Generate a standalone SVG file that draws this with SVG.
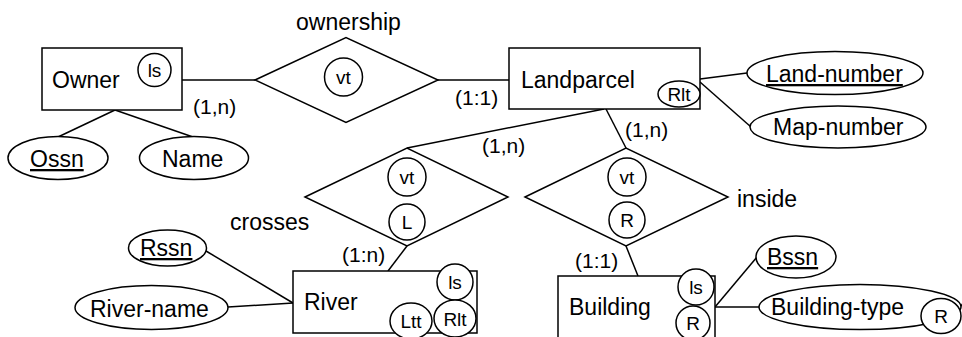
<svg xmlns="http://www.w3.org/2000/svg" width="962" height="337" viewBox="0 0 962 337">
<style>
.s{fill:#fff;stroke:#000;stroke-width:1.5}
.l{stroke:#000;stroke-width:1.5;fill:none}
text{font-family:"Liberation Sans",Arial,sans-serif;fill:#000}
.m{font-size:23px}
.c{font-size:21px}
.k{font-size:19px;text-anchor:middle}
.u{text-decoration:underline}
</style>
<rect width="962" height="337" fill="#fff"/>
<g id="connectors">
<line class="l" x1="182" y1="80" x2="255" y2="80"/>
<line class="l" x1="438" y1="80" x2="509" y2="80"/>
<line class="l" x1="604" y1="109" x2="407" y2="148"/>
<line class="l" x1="606" y1="109" x2="626" y2="148"/>
<line class="l" x1="407" y1="246" x2="388" y2="271"/>
<line class="l" x1="626" y1="246" x2="638" y2="276"/>
<line class="l" x1="206" y1="251" x2="293" y2="303"/>
<line class="l" x1="228" y1="307" x2="293" y2="303"/>
<line class="l" x1="700" y1="79" x2="747" y2="73"/>
<line class="l" x1="700" y1="82" x2="751" y2="127"/>
<line class="l" x1="115" y1="110" x2="58" y2="137"/>
<line class="l" x1="115" y1="110" x2="193" y2="137"/>
<line class="l" x1="715" y1="307" x2="757" y2="257"/>
<line class="l" x1="715" y1="307" x2="760" y2="307"/>
<line class="l" x1="959" y1="309" x2="963" y2="303"/>
</g>
<g id="owner">
<rect class="s" x="42" y="48" width="140" height="62"/>
<text class="m" x="52" y="88">Owner</text>
<circle class="s" cx="154.5" cy="70" r="16.5"/>
<text class="k" x="154.5" y="77">ls</text>
<text class="c" x="193" y="114">(1,n)</text>
</g>
<g id="ossn">
<ellipse class="s" cx="58" cy="158" rx="50" ry="21.5"/>
<text class="m u" x="30" y="167">Ossn</text>
</g>
<g id="name">
<ellipse class="s" cx="194" cy="158" rx="54.5" ry="21.5"/>
<text class="m" x="162" y="167">Name</text>
</g>
<g id="ownership">
<polygon class="s" points="255,80 346,37.5 438,80 346,122.5"/>
<circle class="s" cx="343.5" cy="77" r="19"/>
<text class="k" x="343.5" y="84">vt</text>
<text class="m" x="348.5" y="30" text-anchor="middle">ownership</text>
</g>
<g id="landparcel">
<rect class="s" x="509" y="48" width="191" height="61"/>
<text class="m" x="521" y="88">Landparcel</text>
<ellipse class="s" cx="679" cy="94" rx="21" ry="13"/>
<text class="k" x="679" y="101">Rlt</text>
<text class="c" x="455" y="105">(1:1)</text>
<text class="c" x="482" y="153">(1,n)</text>
<text class="c" x="625" y="137">(1,n)</text>
</g>
<g id="land-number">
<ellipse class="s" cx="835" cy="73" rx="88" ry="21.5"/>
<text class="m u" x="766" y="82">Land-number</text>
</g>
<g id="map-number">
<ellipse class="s" cx="838" cy="127" rx="88" ry="21"/>
<text class="m" x="773" y="135">Map-number</text>
</g>
<g id="crosses">
<polygon class="s" points="305,197 407,148 508,197 407,246"/>
<circle class="s" cx="407" cy="177" r="19"/>
<text class="k" x="407" y="184">vt</text>
<circle class="s" cx="407" cy="222" r="18"/>
<text class="k" x="407" y="229">L</text>
<text class="m" x="230" y="230">crosses</text>
<text class="c" x="342" y="262">(1:n)</text>
</g>
<g id="inside">
<polygon class="s" points="525,197 626,148 728,197 626,246"/>
<circle class="s" cx="627" cy="177" r="19"/>
<text class="k" x="627" y="184">vt</text>
<circle class="s" cx="627" cy="220" r="18"/>
<text class="k" x="627" y="227">R</text>
<text class="m" x="737" y="207">inside</text>
<text class="c" x="575" y="268">(1:1)</text>
</g>
<g id="river">
<rect class="s" x="293" y="271" width="184" height="62"/>
<text class="m" x="304" y="310">River</text>
<circle class="s" cx="455" cy="282" r="18"/>
<text class="k" x="455" y="289">ls</text>
<ellipse class="s" cx="411" cy="321" rx="21" ry="18"/>
<text class="k" x="411" y="328">Ltt</text>
<ellipse class="s" cx="455" cy="318.5" rx="21" ry="18.5"/>
<text class="k" x="455" y="325.5">Rlt</text>
</g>
<g id="rssn">
<ellipse class="s" cx="167.5" cy="248" rx="39" ry="18"/>
<text class="m u" x="140" y="256">Rssn</text>
</g>
<g id="river-name">
<ellipse class="s" cx="151.5" cy="307.5" rx="76.5" ry="22"/>
<text class="m" x="90" y="317">River-name</text>
</g>
<g id="building">
<rect class="s" x="558" y="276" width="157" height="70"/>
<text class="m" x="569" y="315">Building</text>
<circle class="s" cx="696" cy="287" r="18"/>
<text class="k" x="696" y="294">ls</text>
<circle class="s" cx="693" cy="323" r="17"/>
<text class="k" x="693" y="330">R</text>
</g>
<g id="bssn">
<ellipse class="s" cx="796" cy="257" rx="40" ry="21"/>
<text class="m u" x="767" y="265">Bssn</text>
</g>
<g id="building-type">
<ellipse class="s" cx="860" cy="307" rx="101" ry="22.5"/>
<text class="m" x="771" y="315">Building-type</text>
<ellipse class="s" cx="941" cy="316" rx="20" ry="17.5"/>
<text class="k" x="941" y="323">R</text>
</g>
</svg>
